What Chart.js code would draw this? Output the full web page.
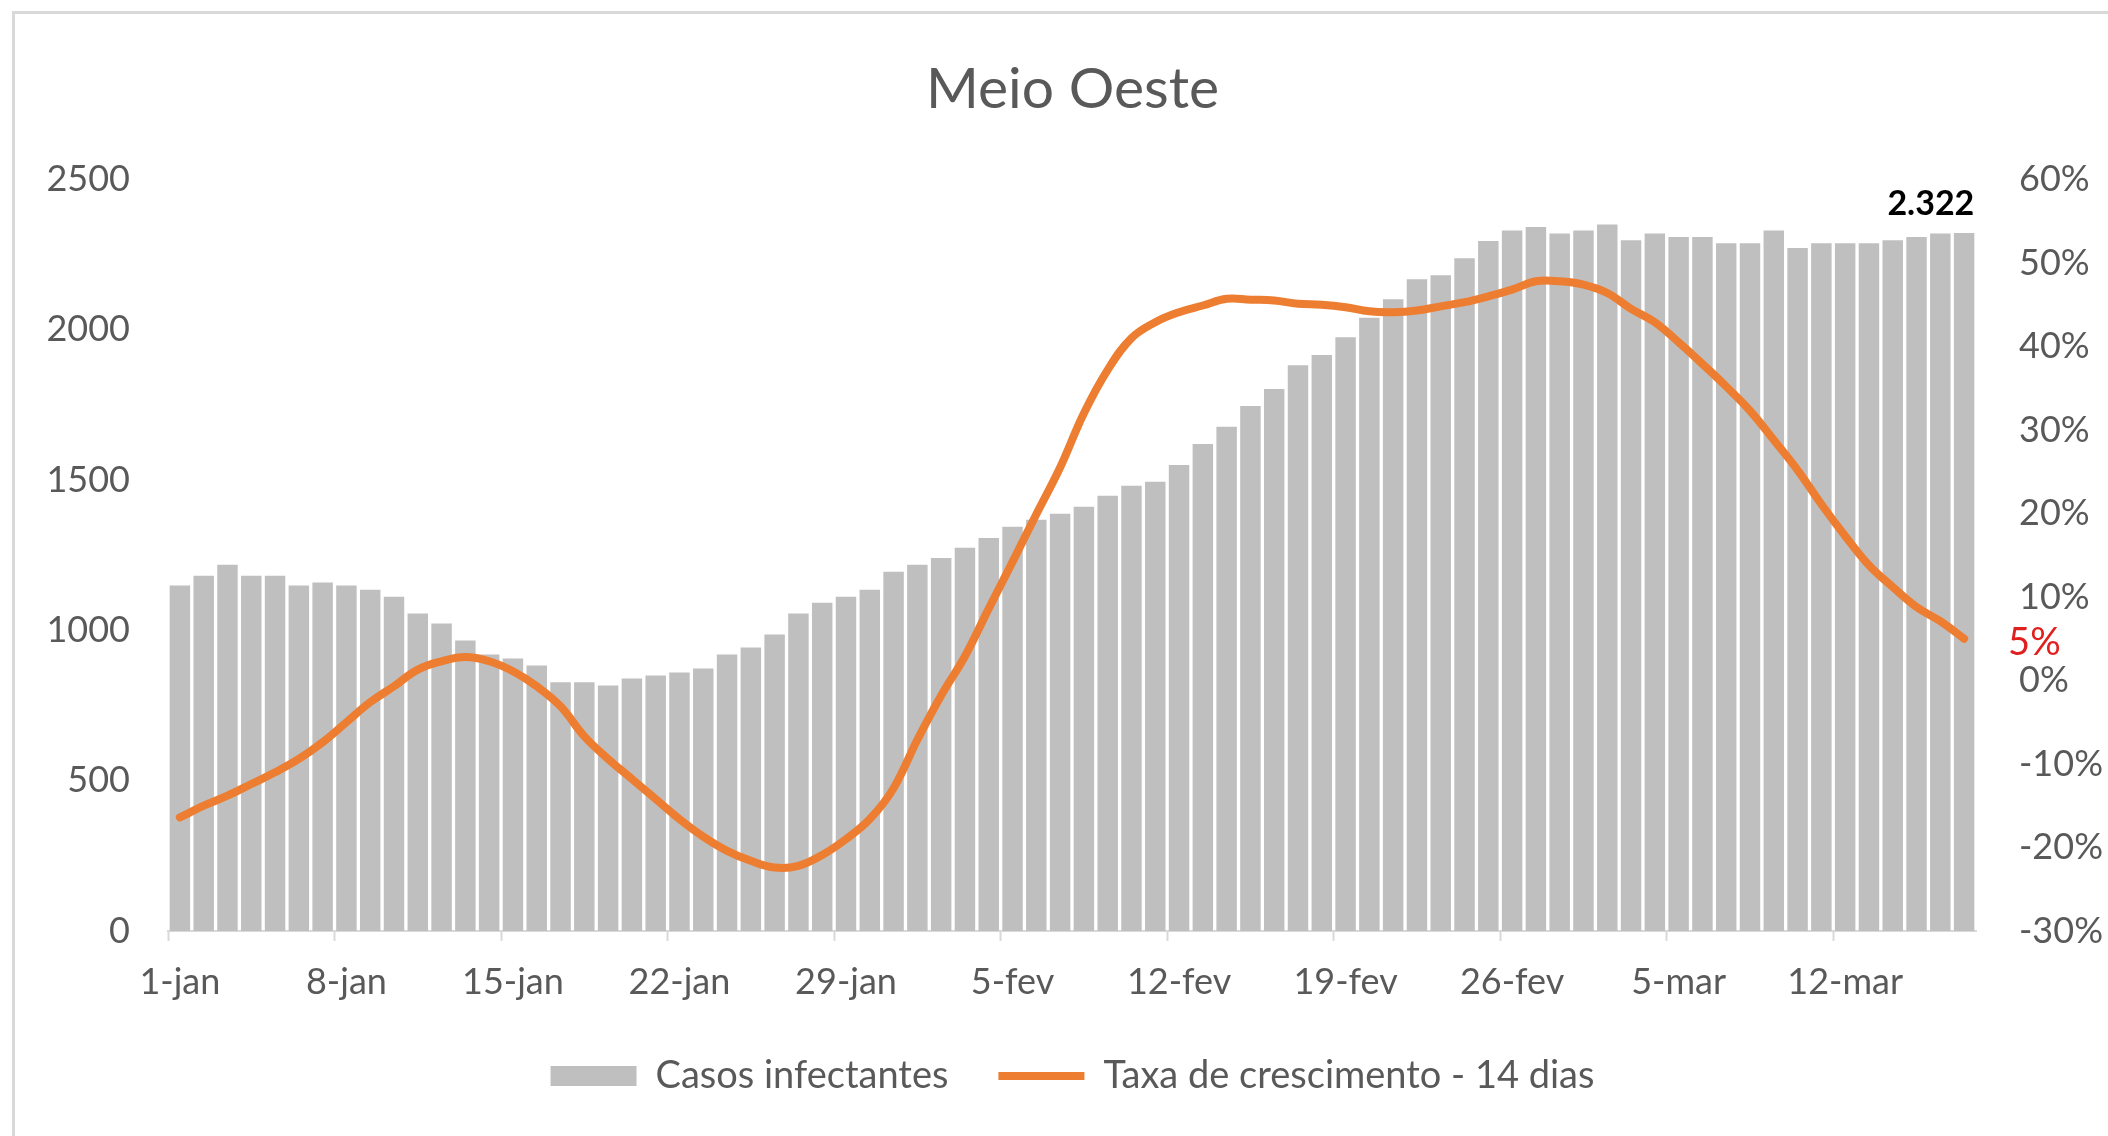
<!DOCTYPE html>
<html>
<head>
<meta charset="utf-8">
<title>Meio Oeste</title>
<script src="https://cdn.jsdelivr.net/npm/chart.js@4.4.1/dist/chart.umd.min.js"></script>
<style>
    body { margin: 0; background: #fff; }
    #wrap { position: relative; width: 2108px; height: 1136px; }
    #frame {
        position: absolute; left: 12px; top: 11px; right: -10px; bottom: -10px;
        border-left: 3px solid #d9d9d9; border-top: 3px solid #d9d9d9;
    }
</style>
</head>
<body>
<div id="wrap">
    <div id="frame"></div>
    <canvas id="chart"></canvas>
</div>
<script>
var labels = [
    "1-jan", "2-jan", "3-jan", "4-jan", "5-jan", "6-jan", "7-jan", "8-jan", "9-jan", "10-jan",
    "11-jan", "12-jan", "13-jan", "14-jan", "15-jan", "16-jan", "17-jan", "18-jan", "19-jan", "20-jan",
    "21-jan", "22-jan", "23-jan", "24-jan", "25-jan", "26-jan", "27-jan", "28-jan", "29-jan", "30-jan",
    "31-jan", "1-fev", "2-fev", "3-fev", "4-fev", "5-fev", "6-fev", "7-fev", "8-fev", "9-fev",
    "10-fev", "11-fev", "12-fev", "13-fev", "14-fev", "15-fev", "16-fev", "17-fev", "18-fev", "19-fev",
    "20-fev", "21-fev", "22-fev", "23-fev", "24-fev", "25-fev", "26-fev", "27-fev", "28-fev", "1-mar",
    "2-mar", "3-mar", "4-mar", "5-mar", "6-mar", "7-mar", "8-mar", "9-mar", "10-mar", "11-mar",
    "12-mar", "13-mar", "14-mar", "15-mar", "16-mar", "17-mar"
];

// casos infectantes por dia
var casos = [
    1149, 1182, 1218, 1182, 1182, 1149, 1159, 1149, 1135, 1112,
    1056, 1023, 966, 920, 906, 883, 827, 827, 817, 840,
    850, 860, 873, 920, 943, 986, 1056, 1092, 1112, 1135,
    1195, 1218, 1241, 1275, 1307, 1345, 1368, 1388, 1411, 1448,
    1481, 1494, 1550, 1620, 1677, 1746, 1803, 1882, 1916, 1975,
    2040, 2101, 2168, 2181, 2238, 2295, 2330, 2342, 2320, 2330,
    2350, 2298, 2320, 2308, 2308, 2288, 2288, 2330, 2272, 2288,
    2288, 2288, 2298, 2308, 2320, 2322
];

// taxa de crescimento em 14 dias (%)
var taxa = [
    -16.4, -15.0, -13.8, -12.4, -11.0, -9.4, -7.4, -5.0, -2.6, -0.7,
    1.3, 2.3, 2.8, 2.3, 1.1, -0.7, -3.1, -6.7, -9.4, -11.8,
    -14.2, -16.6, -18.7, -20.4, -21.6, -22.4, -22.2, -20.9, -19.0, -16.6,
    -12.9, -7.1, -1.8, 2.9, 8.6, 14.2, 19.9, 25.5, 32.0, 37.2,
    41.0, 42.9, 44.1, 44.9, 45.7, 45.6, 45.5, 45.1, 45.0, 44.7,
    44.2, 44.1, 44.3, 44.8, 45.3, 46.0, 46.8, 47.8, 47.8, 47.4,
    46.4, 44.5, 42.9, 40.5, 37.9, 35.2, 32.3, 28.8, 25.2, 21.1,
    17.3, 13.8, 11.2, 8.8, 7.1, 5.0
];

var textColor = "#595959";
var fontFamily = "Lato, 'Open Sans', sans-serif";

function milhar(v) {
    return String(v).replace(/\B(?=(\d{3})+(?!\d))/g, ".");
}

// rotulos do ultimo dia: total de casos e taxa
var ultimosValores = {
    id: "ultimosValores",
    afterDatasetsDraw: function (chart) {
        var ctx = chart.ctx;
        var barras = chart.getDatasetMeta(0).data;
        var pontos = chart.getDatasetMeta(1).data;
        var bar = barras[barras.length - 1];
        var pt = pontos[pontos.length - 1];

        ctx.save();
        ctx.font = "bold 34px " + fontFamily;
        ctx.fillStyle = "#000";
        ctx.textAlign = "right";
        ctx.textBaseline = "bottom";
        ctx.fillText(milhar(casos[casos.length - 1]), bar.x + bar.width / 2, bar.y - 12);

        ctx.font = "38px " + fontFamily;
        ctx.fillStyle = "#e0201e";
        ctx.textAlign = "left";
        ctx.textBaseline = "middle";
        ctx.fillText(Math.round(taxa[taxa.length - 1]) + "%", pt.x + 44, pt.y + 4);
        ctx.restore();
    },
};

var ctx = document.getElementById("chart").getContext("2d");

var chart = new Chart(ctx, {
    type: "bar",
    data: {
        labels: labels,
        datasets: [
            {
                label: "Casos infectantes",
                data: casos,
                backgroundColor: "#bfbfbf",
                borderWidth: 0,
                categoryPercentage: 1,
                barPercentage: 0.86,
                pointStyle: "rect",
                yAxisID: "y",
                order: 1,
            },
            {
                type: "line",
                label: "Taxa de crescimento - 14 dias",
                data: taxa,
                borderColor: "#ed7d31",
                backgroundColor: "#ed7d31",
                borderWidth: 8,
                borderCapStyle: "round",
                tension: 0.4,
                pointRadius: 0,
                pointStyle: "line",
                yAxisID: "y1",
                order: 0,
            },
        ],
    },
    options: {
        responsive: true,
        maintainAspectRatio: false,
        animation: false,
        layout: {
            padding: { left: 37, right: 0, top: 0, bottom: 31 },
        },
        plugins: {
            title: {
                display: true,
                text: "Meio Oeste",
                color: textColor,
                font: { family: fontFamily, size: 57, weight: "normal" },
                padding: { top: 55, bottom: 56 },
            },
            legend: {
                position: "bottom",
                labels: {
                    usePointStyle: true,
                    pointStyleWidth: 86,
                    boxHeight: 20,
                    padding: 50,
                    color: textColor,
                    font: { family: fontFamily, size: 38 },
                    sort: function (a, b) {
                        return a.datasetIndex - b.datasetIndex;
                    },
                },
            },
            tooltip: { enabled: false },
        },
        scales: {
            x: {
                grid: {
                    offset: true,
                    drawOnChartArea: false,
                    drawTicks: true,
                    tickLength: 10,
                    tickWidth: 2,
                    tickColor: function (c) {
                        return c.index % 7 === 0 ? "#d9d9d9" : "rgba(0,0,0,0)";
                    },
                },
                border: { display: true, color: "#d9d9d9", width: 2 },
                ticks: {
                    autoSkip: false,
                    maxRotation: 0,
                    padding: 20,
                    color: textColor,
                    font: { family: fontFamily, size: 36 },
                    callback: function (value, index) {
                        return index % 7 === 0 ? labels[index] : "";
                    },
                },
                afterFit: function (scale) {
                    scale.height = 76;
                },
            },
            y: {
                position: "left",
                min: 0,
                max: 2500,
                grid: { display: false, drawTicks: false },
                border: { display: false },
                ticks: {
                    stepSize: 500,
                    padding: 38,
                    color: textColor,
                    font: { family: fontFamily, size: 36 },
                    callback: function (value) {
                        return String(value);
                    },
                },
                afterFit: function (scale) {
                    scale.width = 131;
                },
            },
            y1: {
                position: "right",
                min: -30,
                max: 60,
                grid: { display: false, drawTicks: false },
                border: { display: false },
                ticks: {
                    stepSize: 10,
                    padding: 43,
                    color: textColor,
                    font: { family: fontFamily, size: 36 },
                    callback: function (value) {
                        return Math.round(value) + "%";
                    },
                },
                afterFit: function (scale) {
                    scale.width = 132;
                },
            },
        },
    },
    plugins: [ultimosValores],
});
</script>
</body>
</html>
